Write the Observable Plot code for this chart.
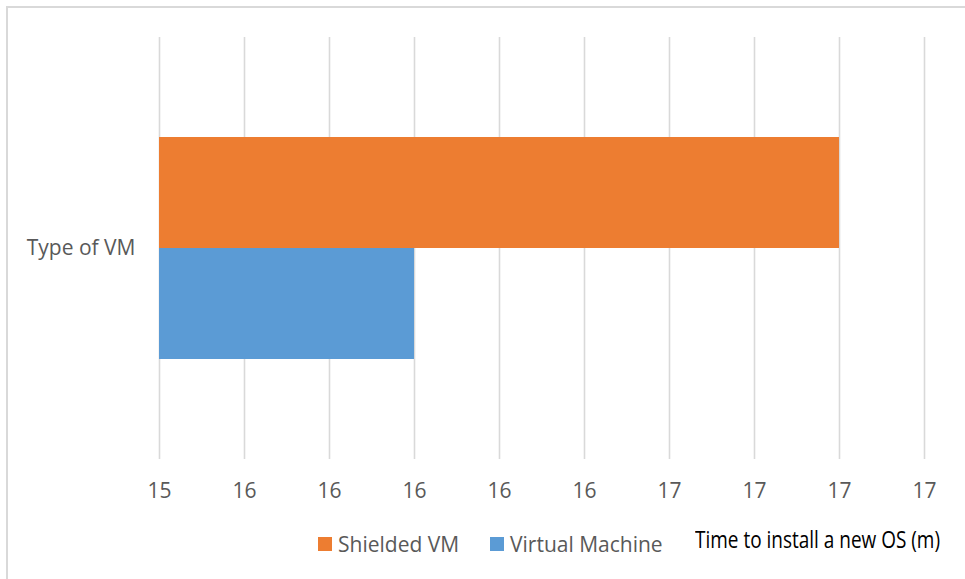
<!DOCTYPE html>
<html>
<head>
<meta charset="utf-8">
<script src="https://cdn.jsdelivr.net/npm/d3@7"></script>
<script src="https://cdn.jsdelivr.net/npm/@observablehq/plot@0.6"></script>
<style>
  html, body { margin: 0; padding: 0; background: #fff; }
  #wrap { position: relative; width: 965px; height: 579px; overflow: hidden; font-family: "Open Sans", "Noto Sans", sans-serif; }
  #bl { position: absolute; left: 6px; top: 6px; width: 2px; height: 573px; background: #d9d9d9; }
  #bt { position: absolute; left: 6px; top: 6px; width: 959px; height: 2px; background: #d9d9d9; }
  #chart { position: absolute; left: 0; top: 0; }
  .leg { position: absolute; top: 530px; display: flex; align-items: center; font-size: 21px; color: #595959; white-space: nowrap; }
  .sw { width: 14px; height: 14px; margin-right: 6px; }
  #xtitle { position: absolute; left: 695px; top: 528px; font-family: "Open Sans", sans-serif; font-size: 23px; line-height: 23px; color: #000; white-space: nowrap; transform: scaleX(0.825); transform-origin: left center; }
</style>
</head>
<body>
<div id="wrap">
  <div id="bl"></div>
  <div id="bt"></div>
  <div id="chart"></div>
  <div class="leg" id="leg0" style="left:318px"></div>
  <div class="leg" id="leg1" style="left:490px"></div>
  <div id="xtitle">Time to install a new OS (m)</div>
</div>
<script>
const category = ["Type of VM"];
const series = ["Shielded VM", "Virtual Machine"];
const values = [17.0, 16.0];
const colors = ["#ED7D31", "#5B9BD5"];
const tickValues = [15.4, 15.6, 15.8, 16.0, 16.2, 16.4, 16.6, 16.8, 17.0, 17.2];
const tickLabels = ["15", "16", "16", "16", "16", "16", "17", "17", "17", "17"];
const xMin = 15.4, xMax = 17.2;

const data = series.map((s, i) => ({category: category[0], series: s, value: values[i]}));

const chart = Plot.plot({
  width: 965,
  height: 579,
  marginLeft: 159,
  marginRight: 41,
  marginTop: 37,
  marginBottom: 120,
  style: {fontFamily: '"Open Sans", "Noto Sans", sans-serif', fontSize: "21px", color: "#595959", background: "transparent"},
  x: {domain: [xMin, xMax], ticks: tickValues},
  y: {domain: series, paddingInner: 0, paddingOuter: 0.9, axis: null},
  color: {domain: series, range: colors},
  marks: [
    Plot.ruleX(tickValues, {stroke: "#d9d9d9", strokeWidth: 1.6}),
    Plot.barX(data, {x1: xMin, x2: "value", y: "series", fill: "series", inset: 0}),
    Plot.axisX({ticks: tickValues, tickFormat: (d, i) => tickLabels[i], tickSize: 0, tickPadding: 24, label: null, fill: "#595959", fontSize: 21}),
    Plot.text(category, {frameAnchor: "left", dx: -24, textAnchor: "end", text: d => d, fill: "#595959", fontSize: 21})
  ]
});
document.getElementById("chart").appendChild(chart);

series.forEach((s, i) => {
  const el = document.getElementById("leg" + i);
  el.innerHTML = `<div class="sw" style="background:${colors[i]}"></div><span>${s}</span>`;
});
</script>
</body>
</html>
